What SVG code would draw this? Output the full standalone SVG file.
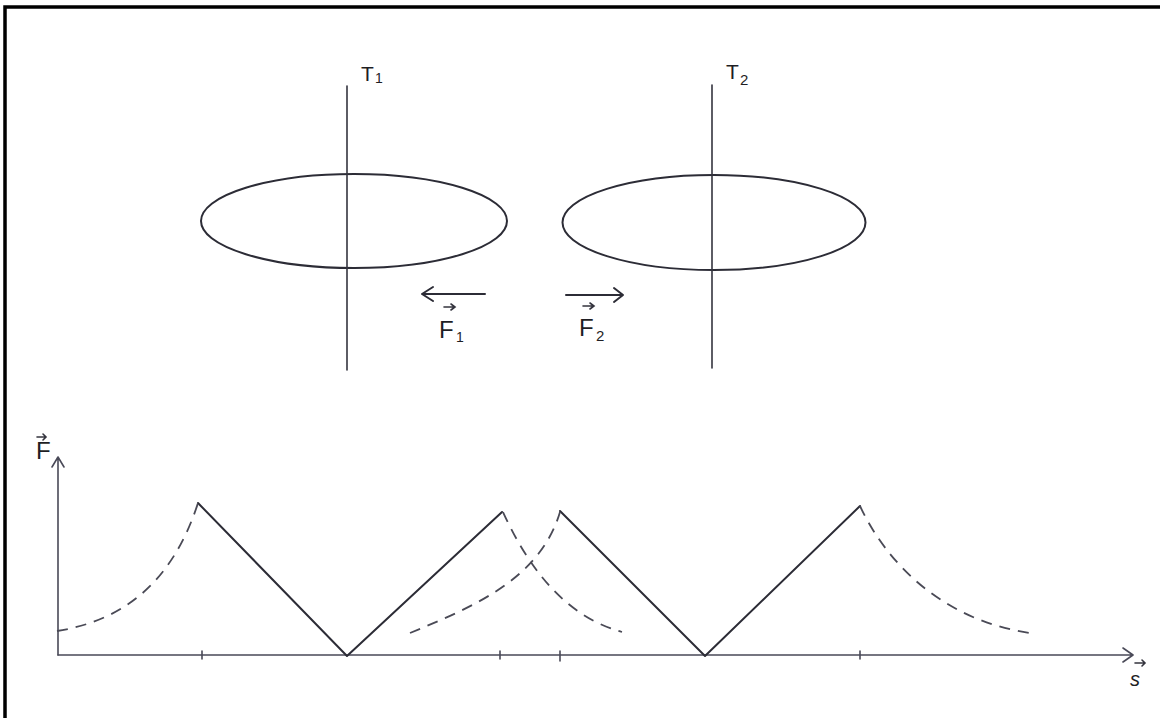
<svg xmlns="http://www.w3.org/2000/svg" width="1160" height="718" viewBox="0 0 1160 718">
<style>
.pen{fill:none;stroke:#2c2c36;stroke-width:2;stroke-linecap:round;stroke-linejoin:round}
.thin{fill:none;stroke:#34343e;stroke-width:1.6;stroke-linecap:round}
.axis{fill:none;stroke:#4a4a58;stroke-width:1.6;stroke-linecap:round;stroke-linejoin:round}
.dash{fill:none;stroke:#4a4a56;stroke-width:1.8;stroke-dasharray:11 8}
.lbl{font-family:"Liberation Sans",Arial,sans-serif;fill:#1e1e24}
</style>
<rect width="1160" height="718" fill="#ffffff"/>
<path d="M5,718 V7 H1160" fill="none" stroke="#000" stroke-width="3.5"/>

<g id="body1">
<ellipse class="pen" cx="354" cy="221" rx="153" ry="47"/>
</g>
<g id="body2">
<ellipse class="pen" cx="714" cy="222.5" rx="151.5" ry="47.5"/>
</g>
<g id="axisT1">
<line class="thin" x1="347" y1="86" x2="347" y2="370"/>
<text class="lbl" x="361" y="81" font-size="21">T</text>
<text class="lbl" x="375" y="83" font-size="14">1</text>
</g>
<g id="axisT2">
<line class="thin" x1="712" y1="85" x2="712" y2="368"/>
<text class="lbl" x="726" y="79" font-size="21">T</text>
<text class="lbl" x="740" y="85" font-size="15">2</text>
</g>

<g id="force1">
<path class="pen" d="M422,294 H485 M433,287 L422,294 L433,301"/>
<text class="lbl" x="439" y="338" font-size="24">F</text>
<text class="lbl" x="456" y="342" font-size="14">1</text>
<path class="thin" d="M444,307 H455 M451,304 L455,307 L451,310"/>
</g>
<g id="force2">
<path class="pen" d="M566,295 H623 M614,288 L623,295 L614,302"/>
<text class="lbl" x="579" y="336" font-size="24">F</text>
<text class="lbl" x="596" y="341" font-size="15">2</text>
<path class="thin" d="M583,306 H594 M590,303 L594,306 L590,309"/>
</g>

<g id="graph">
<path class="axis" d="M58,655 V458 M52,467 L58,457 L64,467"/>
<path class="axis" d="M58,655 H1132 M1123,648 L1133,655 L1123,662"/>
<path class="axis" d="M202,651 V659 M500,651 V659 M560,651 V661 M860,651 V659"/>
<text class="lbl" x="36" y="459" font-size="24">F</text>
<path class="thin" d="M37,437 H46 M43,434 L46,437 L43,440"/>
<text class="lbl" x="1130" y="686" font-size="20" font-style="italic">s</text>
<path class="thin" d="M1135,663 H1145 M1142,660 L1145,663 L1142,666"/>
<path class="pen" d="M198,503 L347,656 L502,512"/>
<path class="pen" d="M560,511 L705,656 L860,506"/>
<path class="dash" d="M57,631 C115,622 170,590 198,503"/>
<path class="dash" d="M503,512 C525,560 560,615 622,632"/>
<path class="dash" d="M410,633 C470,608 540,580 560,512"/>
<path class="dash" d="M860,506 C885,560 940,620 1030,633"/>
</g>
</svg>
